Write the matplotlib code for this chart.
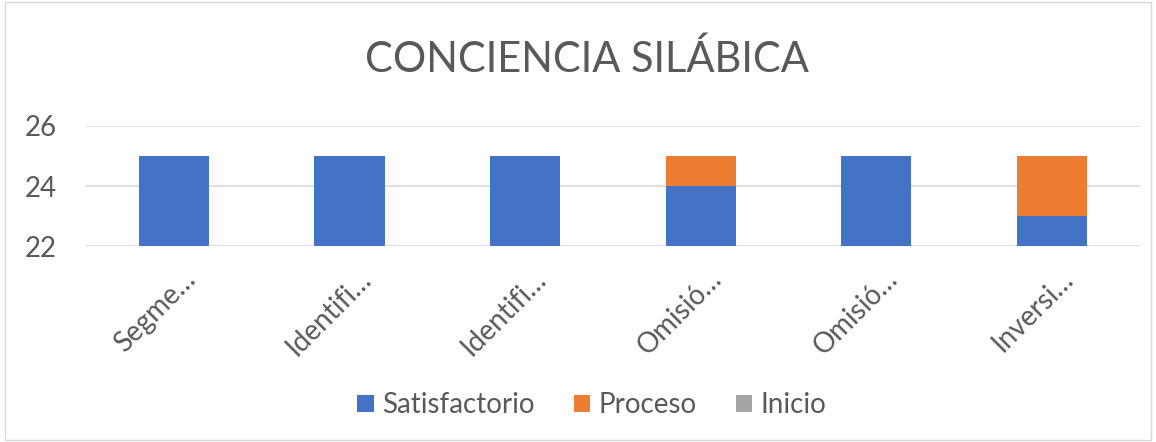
import numpy as np
import matplotlib.pyplot as plt
import matplotlib.transforms as mtransforms
from matplotlib.patches import Rectangle

# Datos del gráfico
categorias = ["Segme…", "Identifi…", "Identifi…", "Omisió…", "Omisió…", "Inversi…"]
satisfactorio = [25, 25, 25, 24, 25, 23]
proceso = [0, 0, 0, 1, 0, 2]
inicio = [0, 0, 0, 0, 0, 0]

azul = "#4472C4"
naranja = "#ED7D31"
gris = "#A5A5A5"
texto = "#595959"

plt.rcParams['font.family'] = ['Lato', 'DejaVu Sans']

fig = plt.figure(figsize=(11.56, 4.42), dpi=100)
fig.patches.append(Rectangle((0.004, 0.004), 0.992, 0.992, transform=fig.transFigure,
                             fill=False, edgecolor="#D9D9D9", linewidth=1))
ax = fig.add_axes([0.0744, 0.443, 0.9116, 0.272])

x = np.arange(len(categorias))
ancho = 0.4
sat = np.array(satisfactorio)
pro = np.array(proceso)
ini = np.array(inicio)
ax.bar(x, sat, ancho, color=azul, label="Satisfactorio", zorder=3)
ax.bar(x, pro, ancho, bottom=sat, color=naranja, label="Proceso", zorder=3)
ax.bar(x, ini, ancho, bottom=sat + pro, color=gris, label="Inicio", zorder=3)

ax.set_ylim(22, 26)
ax.set_xlim(-0.5, len(categorias) - 0.5)
ax.set_yticks([22, 24, 26])
ax.yaxis.grid(True, color="#D9D9D9", linewidth=1.2, zorder=0)
for s in ax.spines.values():
    s.set_visible(False)
ax.tick_params(axis='both', length=0, labelsize=20, colors=texto)
ax.tick_params(axis='y', pad=21)

ax.set_xticks(x)
ax.set_xticklabels(categorias, rotation=45, ha='right', rotation_mode='anchor')
desplaz = mtransforms.ScaledTranslation(8 / 100, -15 / 100, fig.dpi_scale_trans)
for lbl in ax.get_xticklabels():
    lbl.set_transform(lbl.get_transform() + desplaz)

fig.text(0.508, 0.865, "CONCIENCIA SILÁBICA", ha='center', va='center',
         fontsize=30, color=texto)

fig.legend(loc='center', bbox_to_anchor=(0.512, 0.083), ncol=3, frameon=False,
           fontsize=20, labelcolor=texto, handlelength=0.6, handleheight=0.6,
           handletextpad=0.3, columnspacing=1.4)

fig.savefig("out.png", dpi=100)
